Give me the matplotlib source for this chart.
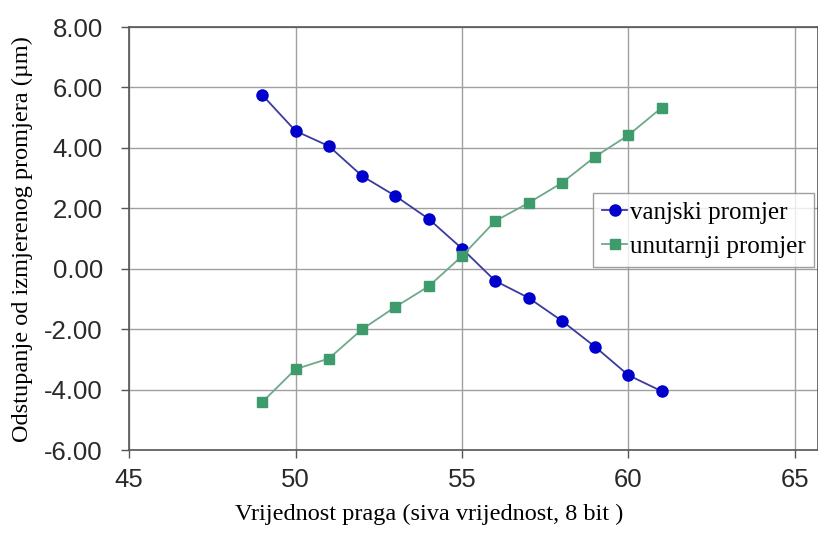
import matplotlib
matplotlib.use("Agg")
from matplotlib import pyplot as plt

prag = [49, 50, 51, 52, 53, 54, 55, 56, 57, 58, 59, 60, 61]
vanjski = [5.75, 4.56, 4.06, 3.07, 2.41, 1.65, 0.67, -0.40, -0.96, -1.72, -2.58, -3.52, -4.05]
unutarnji = [-4.41, -3.32, -2.97, -2.00, -1.26, -0.58, 0.42, 1.58, 2.18, 2.84, 3.71, 4.42, 5.33]

x_ticks = [45, 50, 55, 60, 65]
y_ticks = [-6, -4, -2, 0, 2, 4, 6, 8]

fig = plt.figure(figsize=(8.18, 5.41), dpi=100)
ax = fig.add_axes([0.158, 0.168, 0.842, 0.782])

ax.plot(prag, vanjski, color="#3a3aa0", lw=1.3, marker="o", ms=8,
        mfc="#0000cc", mec="#0000cc", label="vanjski promjer")
ax.plot(prag, unutarnji, color="#6fa88a", lw=1.3, marker="s", ms=7.5,
        mfc="#3d9b6c", mec="#3d9b6c", label="unutarnji promjer")

ax.set_xlim(45, 65.7)
ax.set_ylim(-6, 8)
ax.set_xticks(x_ticks)
ax.set_yticks(y_ticks)
ax.set_yticklabels([f"{v:.2f}" for v in y_ticks])
ax.grid(True, color="#a0a0a0", lw=1)
ax.set_axisbelow(True)

for lab in ax.get_xticklabels() + ax.get_yticklabels():
    lab.set_family("Liberation Sans")
    lab.set_fontsize(18.5)
    lab.set_color("#2a2a2a")
ax.tick_params(length=6, color="#555555", width=1)
ax.tick_params(axis="y", pad=13)
ax.tick_params(axis="x", pad=7)

for s in ax.spines.values():
    s.set_color("#555555")
    s.set_linewidth(1.2)

ax.set_xlabel("Vrijednost praga (siva vrijednost, 8 bit )", family="Liberation Serif",
              fontsize=17.5)
ax.xaxis.set_label_coords(0.435, -0.128)
ax.set_ylabel("Odstupanje od izmjerenog promjera (µm)", family="Liberation Serif",
              fontsize=17.5, labelpad=8)

leg = ax.legend(loc="upper left", bbox_to_anchor=(0.674, 0.608), borderaxespad=0,
                prop={"family": "Liberation Serif", "size": 18},
                frameon=True, fancybox=False, handlelength=1.0, handletextpad=0.1,
                borderpad=0.35, labelspacing=0.45)
leg.get_frame().set_edgecolor("#888888")
leg.get_frame().set_linewidth(1)

fig.savefig("out.png", dpi=100)
